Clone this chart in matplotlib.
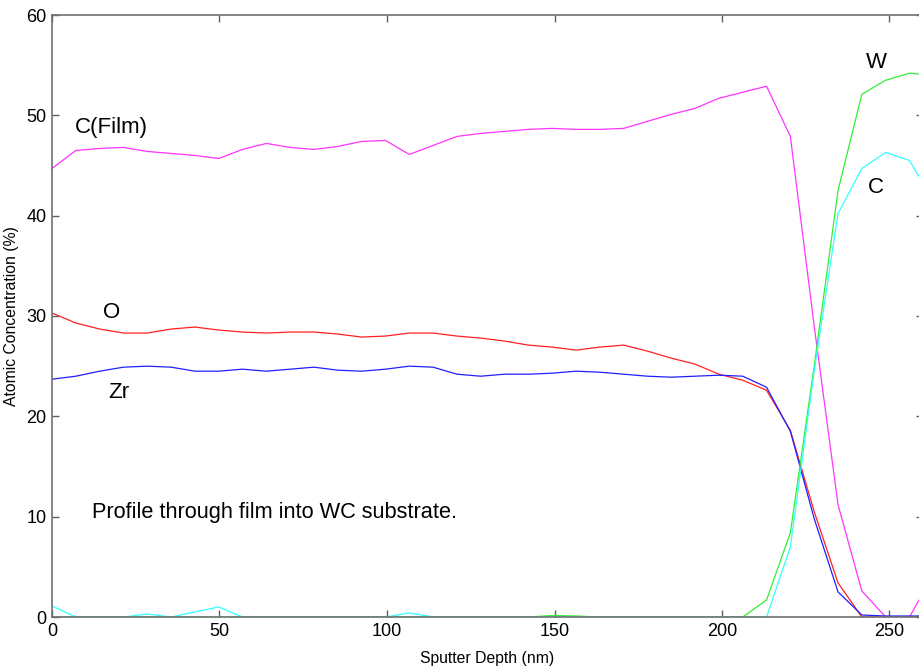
import matplotlib
matplotlib.use("Agg")
import matplotlib.pyplot as plt
import numpy as np

plt.rcParams['font.family'] = ['Liberation Sans', 'DejaVu Sans']

step = 7.11
n_points = 38
depth = np.arange(n_points) * step

c_film = [44.7, 46.5, 46.7, 46.8, 46.4, 46.2, 46.0, 45.7, 46.6, 47.2,
          46.8, 46.6, 46.9, 47.4, 47.5, 46.1, 47.0, 47.9, 48.2, 48.4,
          48.6, 48.7, 48.6, 48.6, 48.7, 49.4, 50.1, 50.7, 51.7, 52.3,
          52.9, 47.9, 29.0, 11.2, 2.6, 0.0, 0.0, 4.2]
oxygen = [30.3, 29.3, 28.7, 28.3, 28.3, 28.7, 28.9, 28.6, 28.4, 28.3,
          28.4, 28.4, 28.2, 27.9, 28.0, 28.3, 28.3, 28.0, 27.8, 27.5,
          27.1, 26.9, 26.6, 26.9, 27.1, 26.5, 25.8, 25.2, 24.2, 23.6,
          22.6, 18.6, 10.5, 3.4, 0.0, 0.0, 0.0, 0.0]
zirconium = [23.7, 24.0, 24.5, 24.9, 25.0, 24.9, 24.5, 24.5, 24.7, 24.5,
             24.7, 24.9, 24.6, 24.5, 24.7, 25.0, 24.9, 24.2, 24.0, 24.2,
             24.2, 24.3, 24.5, 24.4, 24.2, 24.0, 23.9, 24.0, 24.1, 24.0,
             22.9, 18.5, 9.8, 2.5, 0.2, 0.1, 0.1, 0.1]
tungsten = [0.0, 0.0, 0.0, 0.0, 0.0, 0.0, 0.0, 0.0, 0.0, 0.0,
            0.0, 0.0, 0.0, 0.0, 0.0, 0.0, 0.0, 0.0, 0.0, 0.0,
            0.0, 0.15, 0.1, 0.0, 0.0, 0.0, 0.0, 0.0, 0.0, 0.0,
            1.7, 8.4, 25.0, 42.5, 52.1, 53.5, 54.2, 54.0]
carbon_sub = [1.1, 0.0, 0.0, 0.0, 0.3, 0.0, 0.5, 1.0, 0.0, 0.0,
              0.0, 0.0, 0.0, 0.0, 0.0, 0.4, 0.0, 0.0, 0.0, 0.0,
              0.0, 0.0, 0.0, 0.0, 0.0, 0.0, 0.0, 0.0, 0.0, 0.0,
              0.0, 7.0, 24.5, 40.2, 44.7, 46.3, 45.5, 41.5]

x_ticks = [0, 50, 100, 150, 200, 250]
y_ticks = [0, 10, 20, 30, 40, 50, 60]

fig = plt.figure(figsize=(9.19, 6.71), dpi=100)
ax = fig.add_axes([52/919, 54/671, (923-52)/919, (617-15)/671])

lw = 0.9
ax.plot(depth, c_film, color='#ff33ff', lw=lw)
ax.plot(depth, oxygen, color='#ff2020', lw=lw)
ax.plot(depth, zirconium, color='#2020ff', lw=lw)
ax.plot(depth, tungsten, color='#33ee33', lw=lw)
ax.plot(depth, carbon_sub, color='#33ffff', lw=lw)

ax.set_xlim(0, 260)
ax.set_ylim(0, 60)
ax.set_xticks(x_ticks)
ax.set_yticks(y_ticks)
ax.tick_params(direction='in', top=True, right=True, length=5, width=1,
               color='#606060', labelsize=13, labelcolor='black', pad=4)
for s in ax.spines.values():
    s.set_color('#707070')
    s.set_linewidth(1.2)

ax.set_xlabel('Sputter Depth (nm)', fontsize=11.3, labelpad=8)
ax.set_ylabel('Atomic Concentration (%)', fontsize=11.3, labelpad=5)

tfs = 16
ax.text(6.9, 48.75, 'C(Film)', fontsize=tfs, va='center', ha='left')
ax.text(15.2, 30.3, 'O', fontsize=tfs, va='center', ha='left')
ax.text(16.7, 22.4, 'Zr', fontsize=tfs, va='center', ha='left')
ax.text(243.0, 55.3, 'W', fontsize=tfs, va='center', ha='left')
ax.text(243.6, 42.8, 'C', fontsize=tfs, va='center', ha='left')
ax.text(11.9, 10.4, 'Profile through film into WC substrate.', fontsize=15.7,
        va='center', ha='left')

fig.savefig('out.png', dpi=100)
